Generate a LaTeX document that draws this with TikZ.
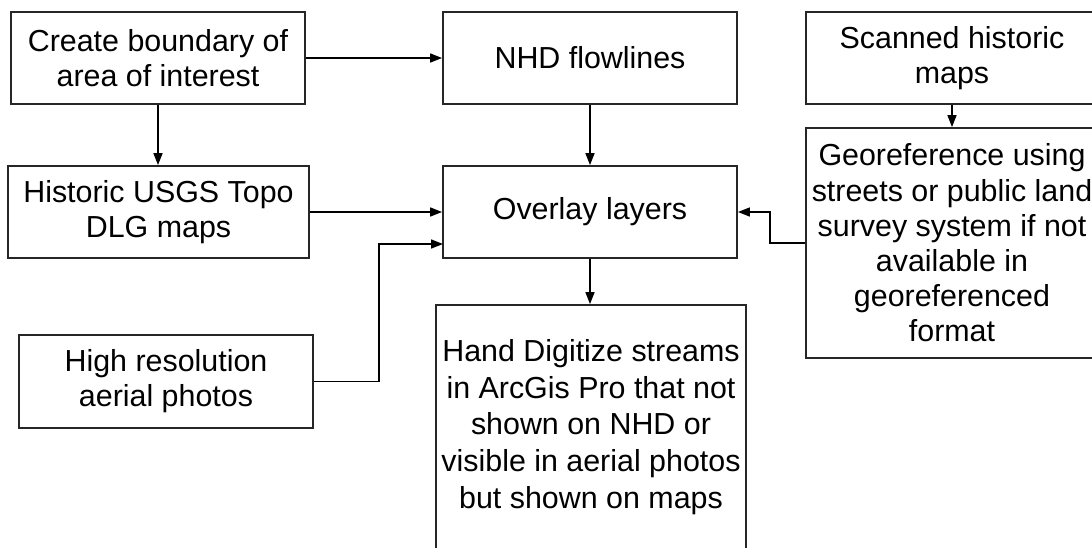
\documentclass[tikz,border=0pt]{standalone}
\usepackage{fontspec}
\setmainfont{Liberation Sans}
\usetikzlibrary{arrows.meta}
\tikzset{
  flowbox/.style={draw=black!85, line width=0.9pt, rectangle, align=center, inner sep=0pt,
    font=\fontsize{15.2}{17.6}\selectfont},
  arr/.style={draw=black, line width=0.75pt, -{Triangle[length=6pt,width=4.5pt]}},
}
\begin{document}
\begin{tikzpicture}[x=0.5pt,y=-0.5pt]
\useasboundingbox (0,0) rectangle (1092,547);
\clip (0,0) rectangle (1092,547);
\fill[white] (0,0) rectangle (1092,547);
\node[flowbox, minimum width=147pt, minimum height=46pt] (a) at (158,58) {Create boundary of\\area of interest};
\node[flowbox, minimum width=147pt, minimum height=46pt] (nhd) at (590,58) {NHD flowlines};
\node[flowbox, minimum width=146pt, minimum height=46pt] (scan) at (952,58) {Scanned historic\\maps};
\node[flowbox, minimum width=150.5pt, minimum height=46pt] (hist) at (158.5,212) {Historic USGS Topo\\DLG maps};
\node[flowbox, minimum width=147pt, minimum height=46pt] (ov) at (590,212) {Overlay layers};
\node[flowbox, minimum width=146pt, minimum height=115pt] (geo) at (952,243) {Georeference using\\streets or public land\\survey system if not\\available in\\georeferenced\\format};
\node[flowbox, minimum width=147pt, minimum height=46.5pt] (hr) at (166,381.5) {High resolution\\aerial photos};
\node[flowbox, font=\fontsize{15.2}{18.35}\selectfont, minimum width=155pt, minimum height=122pt] (hand) at (591,427) {Hand Digitize streams\\in ArcGis Pro that not\\shown on NHD or\\visible in aerial photos\\but shown on maps};
\coordinate (ovin) at (443,244);
\draw[arr] (a.east) -- (nhd.west);
\draw[arr] (a.south) -- (a.south |- hist.north);
\draw[arr] (nhd.south) -- (ov.north);
\draw[arr] (scan.south) -- (geo.north);
\draw[arr] (hist.east) -- (hist.east -| ov.west);
\draw[arr] (hr.east) -- ++(65,0) |- (ovin);
\draw[arr] (geo.west) -- ++(-35,0) |- (ov.east);
\draw[arr] (ov.south) -- (ov.south |- hand.north);
\end{tikzpicture}
\end{document}
